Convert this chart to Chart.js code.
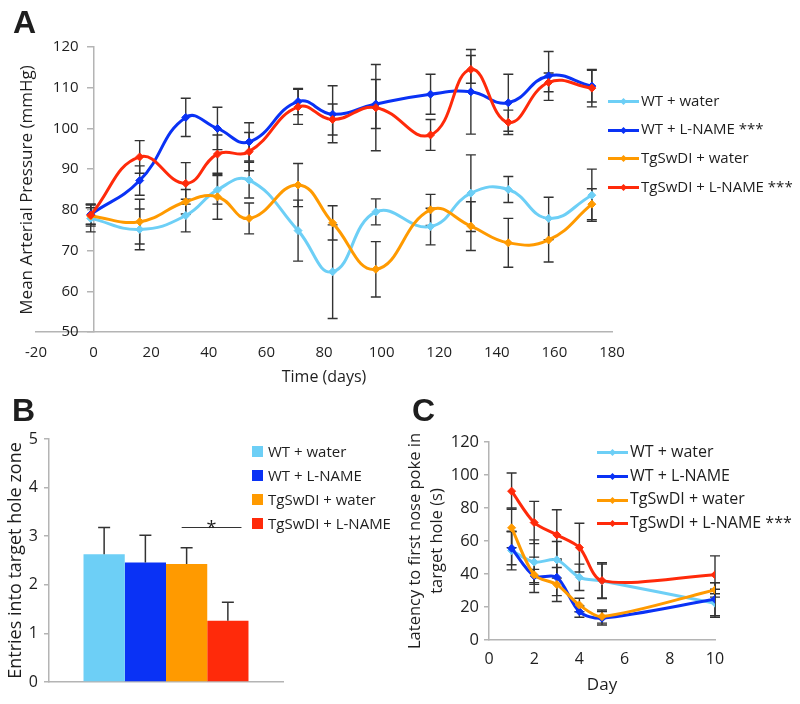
<!DOCTYPE html>
<html>
<head>
<meta charset="utf-8">
<script src="https://cdn.jsdelivr.net/npm/chart.js@4.4.1/dist/chart.umd.min.js"></script>
<style>
  body { margin: 0; background: #fff; font-family: "Open Sans", sans-serif; color: #1e1e1e; }
  #fig { position: relative; width: 800px; height: 704px; overflow: hidden; }
  canvas { position: absolute; }
  .tag { position: absolute; font: bold 32px "Liberation Sans", Arial, sans-serif; line-height: 1; }
  .ytitle { position: absolute; font-size: 17px; white-space: nowrap; transform: translate(-50%, -50%) rotate(-90deg); }
  .leg { position: absolute; white-space: nowrap; }
  .leg .row { display: block; }
  .smp { display: inline-block; position: relative; width: 31px; height: 3px; background: var(--c); vertical-align: middle; margin-right: 2px; }
  .smp::after { content: ''; position: absolute; left: 13px; top: -1px; width: 5px; height: 5px; background: var(--c); transform: rotate(45deg); }
  .sq { display: inline-block; width: 11px; height: 11px; background: var(--c); vertical-align: middle; margin-right: 5px; position: relative; top: -1px; }
</style>
</head>
<body>
<div id="fig">
  <canvas id="cA" width="800" height="400" style="left:0;top:0"></canvas>
  <canvas id="cB" width="400" height="304" style="left:0;top:400px"></canvas>
  <canvas id="cC" width="400" height="304" style="left:400px;top:400px"></canvas>
  <div class="tag" style="left:13px;top:6px">A</div>
  <div class="tag" style="left:12px;top:394px">B</div>
  <div class="tag" style="left:412px;top:394px">C</div>
  <div class="ytitle" id="titleA" style="left:25px;top:190px"></div>
  <div class="leg" id="legA" style="left:608px;top:85.6px;font-size:15px"></div>
  <div class="leg" id="legB" style="left:252px;top:438.7px;font-size:15px"></div>
  <div class="leg" id="legC" style="left:597px;top:440.2px;font-size:16px"></div>
</div>
<script>
const $ = (id) => document.getElementById(id);

// colours of the four groups
const COLORS = ['#6dcff6', '#0a32f5', '#ff9a00', '#ff2a0a'];
const AXIS = '#b4b4b4';
const ERR = '#333333';

// ---- A: mean arterial pressure
const namesA = ['WT + water', 'WT + L-NAME ***', 'TgSwDI + water', 'TgSwDI + L-NAME ***'];
const daysA = [-1, 16, 32, 43, 54, 71, 83, 98, 117, 131, 144, 158, 173];
const mapWtWater = [77.9, 75.2, 78.6, 84.9, 87.3, 74.9, 64.8, 79.5, 75.9, 84.1, 85.0, 77.9, 83.6];
const mapWtWaterErr = [3.3, 5.0, 4.0, 3.5, 4.4, 7.5, 11.5, 3.2, 4.5, 9.4, 3.2, 5.2, 6.4];
const mapWtLname = [78.9, 87.2, 102.7, 100.0, 96.7, 106.6, 103.5, 106.0, 108.4, 109.0, 106.3, 112.9, 110.4];
const mapWtLnameErr = [2.5, 3.6, 4.7, 5.2, 4.7, 3.2, 7.0, 6.0, 4.9, 10.4, 7.0, 6.0, 3.9];
const mapTgWater = [78.5, 77.1, 82.0, 83.2, 77.9, 86.1, 76.8, 65.4, 80.0, 76.0, 71.9, 72.6, 81.4];
const mapTgWaterErr = [2.0, 5.5, 3.0, 5.5, 3.8, 5.3, 4.2, 6.8, 3.8, 6.0, 6.0, 5.4, 3.8];
const mapTgLname = [78.7, 93.0, 86.5, 93.7, 94.3, 105.3, 102.2, 105.1, 98.4, 114.5, 101.5, 111.3, 109.9];
const mapTgLnameErr = [2.7, 4.0, 5.1, 4.7, 4.7, 4.3, 3.8, 10.6, 3.8, 3.4, 3.0, 2.3, 4.6];
const titleAY = 'Mean Arterial Pressure (mmHg)';
const titleAX = 'Time (days)';

// ---- B: entries into target hole zone
const namesB = ['WT + water', 'WT + L-NAME', 'TgSwDI + water', 'TgSwDI + L-NAME'];
const entries = [2.63, 2.46, 2.43, 1.26];
const entriesErr = [0.55, 0.56, 0.33, 0.38];
const sigLevel = 3.18;
const sigMark = '*';
const titleBY = 'Entries into target hole zone';

// ---- C: latency to first nose poke
const namesC = ['WT + water', 'WT + L-NAME', 'TgSwDI + water', 'TgSwDI + L-NAME ***'];
const daysC = [1, 2, 3, 4, 5, 10];
const latWtWater = [54.2, 47.2, 48.6, 38.0, 35.8, 22.3];
const latWtWaterErr = [11.7, 13.5, 11.1, 8.0, 10.3, 8.5];
const latWtLname = [55.6, 38.8, 38.0, 17.2, 13.2, 24.7];
const latWtLnameErr = [10.0, 4.0, 11.1, 3.4, 4.1, 10.0];
const latTgWater = [68.0, 39.5, 33.6, 21.2, 14.2, 30.4];
const latTgWaterErr = [12.0, 10.7, 10.3, 4.1, 4.0, 4.4];
const latTgLname = [90.2, 71.2, 63.7, 56.0, 36.0, 39.5];
const latTgLnameErr = [11.0, 12.8, 15.2, 14.8, 10.9, 11.5];
const titleCY = ['Latency to first nose poke in', 'target hole (s)'];
const titleCX = 'Day';

Chart.defaults.font.family = '"Open Sans", sans-serif';
Chart.defaults.color = '#1e1e1e';
Chart.defaults.animation = false;
Chart.defaults.plugins.legend.display = false;
Chart.defaults.plugins.tooltip.enabled = false;

// error bars, read from dataset.errors
function drawErr(chart, o) {
  const ctx = chart.ctx, ys = chart.scales.y;
  ctx.save();
  ctx.strokeStyle = o.color || ERR;
  ctx.lineWidth = o.width || 1.5;
  chart.data.datasets.forEach((ds, i) => {
    if (!ds.errors) return;
    chart.getDatasetMeta(i).data.forEach((el, j) => {
      const d = ds.data[j];
      const v = typeof d === 'object' ? d.y : d;
      const e = ds.errors[j];
      const top = ys.getPixelForValue(v + e);
      const bot = ys.getPixelForValue(o.upOnly ? v : v - e);
      const x = el.x;
      ctx.beginPath();
      ctx.moveTo(x, top); ctx.lineTo(x, bot);
      ctx.moveTo(x - o.cap, top); ctx.lineTo(x + o.cap, top);
      if (!o.upOnly) { ctx.moveTo(x - o.cap, bot); ctx.lineTo(x + o.cap, bot); }
      ctx.stroke();
    });
  });
  ctx.restore();
}
const errorBars = {
  id: 'errorBars',
  beforeDatasetsDraw(chart, args, o) { if (o.behind) drawErr(chart, o); },
  afterDatasetsDraw(chart, args, o) { if (!o.behind) drawErr(chart, o); },
};

const sigLine = {
  id: 'sigLine',
  afterDatasetsDraw(chart) {
    const ctx = chart.ctx, ys = chart.scales.y;
    const a = chart.getDatasetMeta(2).data[0], b = chart.getDatasetMeta(3).data[0];
    const y = Math.round(ys.getPixelForValue(sigLevel)) + 0.5;
    const x1 = a.x - a.width * 0.12, x2 = b.x + b.width * 0.33;
    ctx.save();
    ctx.strokeStyle = ERR; ctx.lineWidth = 1;
    ctx.beginPath(); ctx.moveTo(x1, y); ctx.lineTo(x2, y); ctx.stroke();
    ctx.fillStyle = '#1e1e1e';
    ctx.font = '18px "Open Sans", sans-serif';
    ctx.textAlign = 'center'; ctx.textBaseline = 'alphabetic';
    ctx.fillText(sigMark, (x1 + x2) / 2, y + 6);
    ctx.restore();
  },
};

const lineSet = (names, xs, vals, errs, tension) => names.map((n, i) => ({
  label: n,
  data: xs.map((x, j) => ({ x, y: vals[i][j] })),
  errors: errs[i],
  borderColor: COLORS[i], backgroundColor: COLORS[i],
  borderWidth: 3, tension,
  pointStyle: 'rectRot', pointRadius: 4, pointBorderWidth: 1,
  pointBorderColor: COLORS[i], pointBackgroundColor: COLORS[i],
  order: 3 - i,
}));

// Panel A
new Chart($('cA'), {
  type: 'line',
  data: {
    datasets: lineSet(namesA, daysA,
      [mapWtWater, mapWtLname, mapTgWater, mapTgLname],
      [mapWtWaterErr, mapWtLnameErr, mapTgWaterErr, mapTgLnameErr], 0.45),
  },
  options: {
    responsive: false,
    layout: { padding: { left: 36, right: 188, top: 47, bottom: 0 } },
    scales: {
      x: {
        type: 'linear', min: -20, max: 180,
        ticks: { stepSize: 20, padding: 12, font: { size: 15 } },
        grid: { display: false, drawTicks: false },
        border: { color: AXIS, width: 1.5 },
        title: { display: true, text: titleAX, font: { size: 16 }, padding: { top: 0, bottom: 13 } },
        afterFit(s) { s.height = 68; },
      },
      y: {
        // axis crosses the time axis at day 0; labels are right aligned on it,
        // so an em space keeps them clear of the tick marks
        position: { x: 0 }, min: 50, max: 120,
        ticks: { stepSize: 10, font: { size: 15 }, callback: (v) => v + '\u2003' },
        grid: { drawOnChartArea: false, tickLength: 6, color: AXIS, lineWidth: 1.5 },
        border: { color: AXIS, width: 1.5 },
      },
    },
    plugins: { errorBars: { behind: true, cap: 5, width: 1.4 } },
  },
  plugins: [errorBars],
});

// Panel B
new Chart($('cB'), {
  type: 'bar',
  data: {
    labels: [''],
    datasets: namesB.map((n, i) => ({
      label: n, data: [entries[i]], errors: [entriesErr[i]],
      backgroundColor: COLORS[i], borderWidth: 0,
      categoryPercentage: 0.705, barPercentage: 1,
    })),
  },
  options: {
    responsive: false,
    layout: { padding: { left: 0, right: 117, top: 39, bottom: 0 } },
    scales: {
      x: {
        ticks: { display: false },
        grid: { display: false, drawTicks: false },
        border: { color: AXIS, width: 1.5 },
        afterFit(s) { s.height = 22; },
      },
      y: {
        min: 0, max: 5,
        ticks: { stepSize: 1, padding: 6, font: { size: 16 } },
        grid: { drawOnChartArea: false, tickLength: 5, color: AXIS, lineWidth: 1.5 },
        border: { color: AXIS, width: 1.5 },
        title: { display: true, text: titleBY, font: { size: 18 }, padding: { top: 5, bottom: 0 } },
        afterFit(s) { s.width = 49; },
      },
    },
    plugins: { errorBars: { upOnly: true, cap: 6, width: 1.5 } },
  },
  plugins: [errorBars, sigLine],
});

// Panel C
new Chart($('cC'), {
  type: 'line',
  data: {
    datasets: lineSet(namesC, daysC,
      [latWtWater, latWtLname, latTgWater, latTgLname],
      [latWtWaterErr, latWtLnameErr, latTgWaterErr, latTgLnameErr], 0.3),
  },
  options: {
    responsive: false,
    layout: { padding: { left: 0, right: 85, top: 42, bottom: 0 } },
    scales: {
      x: {
        type: 'linear', min: 0, max: 10,
        ticks: { stepSize: 2, padding: 10, font: { size: 16 } },
        grid: { display: false, drawTicks: false },
        border: { color: AXIS, width: 1.5 },
        title: { display: true, text: titleCX, font: { size: 17 }, padding: { top: 0, bottom: 9 } },
        afterFit(s) { s.height = 64; },
      },
      y: {
        min: 0, max: 120,
        ticks: { stepSize: 20, padding: 5, font: { size: 16.5 } },
        grid: { drawOnChartArea: false, tickLength: 5, color: AXIS, lineWidth: 1.5 },
        border: { color: AXIS, width: 1.5 },
        title: { display: true, text: titleCY, font: { size: 16.5, lineHeight: 1.333 }, padding: { top: 4, bottom: 0 } },
        afterFit(s) { s.width = 89; },
      },
    },
    plugins: { errorBars: { behind: true, cap: 5, width: 1.4 } },
  },
  plugins: [errorBars],
});

// titles and legends drawn as page text
$('titleA').textContent = titleAY;
const lineLegend = (el, names, rowH) => {
  el.innerHTML = names.map((n, i) =>
    `<span class="row" style="height:${rowH}px;line-height:${rowH}px"><span class="smp" style="--c:${COLORS[i]}"></span>${n}</span>`).join('');
};
lineLegend($('legA'), namesA, 28.7);
lineLegend($('legC'), namesC, 23.6);
$('legB').innerHTML = namesB.map((n, i) =>
  `<span class="row" style="height:24px;line-height:24px"><span class="sq" style="--c:${COLORS[i]}"></span>${n}</span>`).join('');
</script>
</body>
</html>
